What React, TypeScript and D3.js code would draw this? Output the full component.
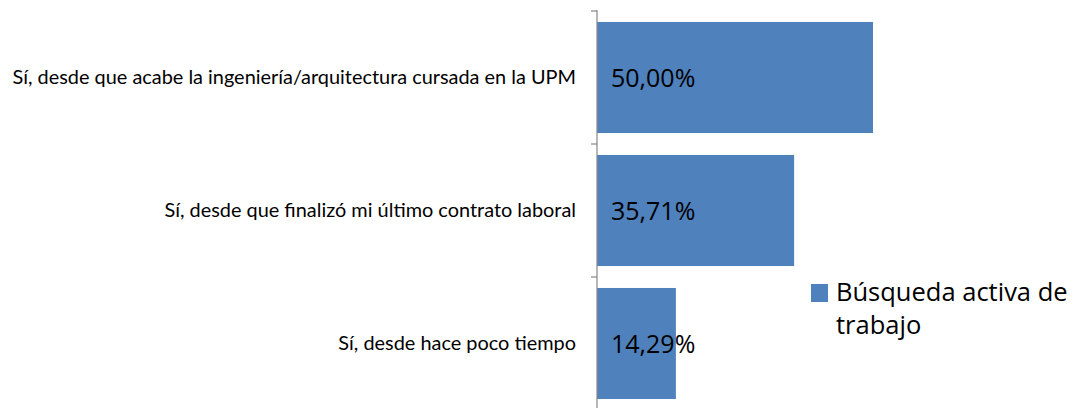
import React from "react";
import * as d3 from "d3";

const categories = [
  "Sí, desde que acabe la ingeniería/arquitectura cursada en la UPM",
  "Sí, desde que finalizó mi último contrato laboral",
  "Sí, desde hace poco tiempo",
];
const values = [0.5, 0.3571, 0.1429];
const valueLabels = ["50,00%", "35,71%", "14,29%"];
const seriesName = ["Búsqueda activa de", "trabajo"];

const W = 1075;
const H = 408;
const FONT = "'Open Sans', sans-serif";
const CAT_FONT = "Lato, sans-serif";
const BLUE = "#4F81BD";

export default function App() {
  const y = d3.scaleBand<string>().domain(categories).range([11, 410]).paddingInner(0.165).paddingOuter(0.0825);
  const x = d3.scaleLinear().domain([0, 0.5]).range([597, 873]);
  const boundaries = d3.range(categories.length + 1).map((i) => 11 + i * y.step());
  return (
    <svg width={W} height={H} style={{ position: "absolute", left: 0, top: 0 }} fontFamily={FONT}>
      {categories.map((c, i) => (
        <g key={c}>
          <rect x={x(0)} y={y(c)} width={x(values[i]) - x(0)} height={y.bandwidth()} fill={BLUE} />
          <text x={x(0) + 14} y={(y(c) as number) + y.bandwidth() / 2} dy="0.36em" fontSize={25} fill="#000">
            {valueLabels[i]}
          </text>
          <text x={576} y={(y(c) as number) + y.bandwidth() / 2} dy="0.35em" fontSize={19.9} fontFamily={CAT_FONT} textAnchor="end" fill="#000">
            {c}
          </text>
        </g>
      ))}
      <line x1={597} x2={597} y1={10} y2={H} stroke="#868686" strokeWidth={1.2} />
      {boundaries.map((b) => (
        <line key={b} x1={591} x2={597} y1={b} y2={b} stroke="#868686" strokeWidth={1.2} />
      ))}
      <rect x={811} y={284} width={17} height={18} fill={BLUE} />
      <text x={836} y={301} fontSize={25.5} fill="#000">
        {seriesName[0]}
      </text>
      <text x={836} y={334} fontSize={25.5} fill="#000">
        {seriesName[1]}
      </text>
    </svg>
  );
}
